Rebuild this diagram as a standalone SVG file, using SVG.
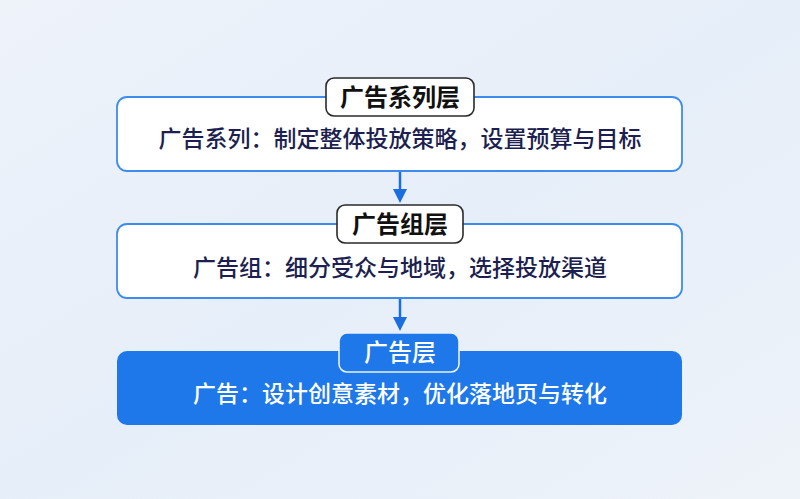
<svg xmlns="http://www.w3.org/2000/svg" width="800" height="499" viewBox="0 0 800 499">
<defs>
<linearGradient id="bg" x1="0" y1="0" x2="1" y2="1">
<stop offset="0" stop-color="#eef3fa"/>
<stop offset="0.5" stop-color="#e6eef9"/>
<stop offset="1" stop-color="#eef3f9"/>
</linearGradient>
<marker id="arr" markerWidth="15" markerHeight="14" refX="0" refY="7" orient="auto" markerUnits="userSpaceOnUse" viewBox="0 0 14 14">
<path d="M0,0 L14,7 L0,14 z" fill="#1a6fe0"/>
</marker>
<style>
.box{fill:#ffffff;stroke:#3d8ced;stroke-width:1.8}
.boxb{fill:#1f78ea;stroke:none}
.lbl{fill:#ffffff;stroke:#2a2a2a;stroke-width:1.6}
.lblb{fill:#1f78ea;stroke:#e8f0fb;stroke-width:1.6}
.t{font-family:"Noto Sans CJK SC","Noto Sans",sans-serif;font-size:23px;font-weight:500;text-anchor:middle;fill:#1c1f4f}
.tw{fill:#ffffff}
.h{font-family:"Noto Sans CJK SC","Noto Sans",sans-serif;font-size:24px;font-weight:bold;text-anchor:middle;fill:#111111}
.hw{font-weight:500;fill:#ffffff}
.c{stroke:#1a6fe0;stroke-width:2.5;fill:none}
</style>
</defs>
<rect width="800" height="499" fill="url(#bg)"/>
<g id="connectors">
<line class="c" x1="400" y1="172" x2="400" y2="189" marker-end="url(#arr)"/>
<line class="c" x1="400" y1="299" x2="400" y2="317" marker-end="url(#arr)"/>
</g>
<g id="node-campaign">
<rect class="box" x="117" y="97" width="565" height="74" rx="10"/>
<rect class="lbl" x="326" y="78" width="148" height="38" rx="8"/>
<text class="h" x="400" y="106">广告系列层</text>
<text class="t" x="400" y="147">广告系列：制定整体投放策略，设置预算与目标</text>
</g>
<g id="node-adgroup">
<rect class="box" x="117" y="224" width="565" height="74" rx="10"/>
<rect class="lbl" x="337" y="205" width="126" height="38" rx="8"/>
<text class="h" x="400" y="233">广告组层</text>
<text class="t" x="400" y="276">广告组：细分受众与地域，选择投放渠道</text>
</g>
<g id="node-ad">
<rect class="boxb" x="117" y="351" width="565" height="74" rx="10"/>
<rect class="lblb" x="339" y="333" width="120" height="39" rx="8"/>
<text class="h hw" x="400" y="361">广告层</text>
<text class="t tw" x="400" y="402">广告：设计创意素材，优化落地页与转化</text>
</g>
</svg>
